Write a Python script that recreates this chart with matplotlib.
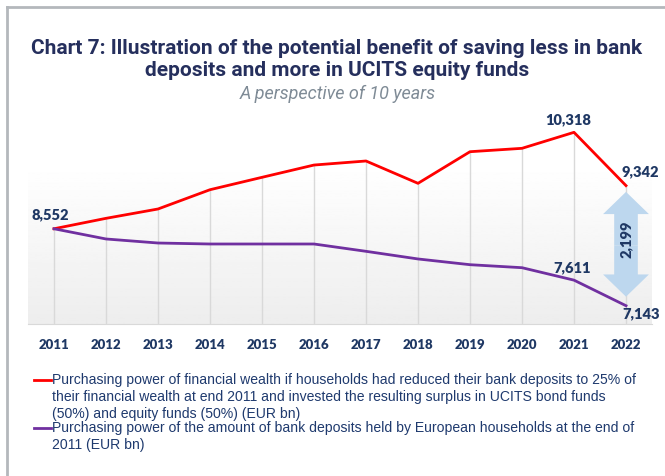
import numpy as np
import matplotlib
matplotlib.use("Agg")
import matplotlib.pyplot as plt
from matplotlib.lines import Line2D

# ------------------------------------------------------------
#  data (EUR bn)
# ------------------------------------------------------------
years = list(range(2011, 2023))
funds_mix = [8552, 8743, 8914, 9267, 9494, 9719, 9793, 9384, 9963, 10025, 10318, 9342]
deposits = [8552, 8365, 8291, 8273, 8273, 8273, 8139, 7999, 7894, 7839, 7611, 7143]

labelled = {"funds": [2011, 2021, 2022], "deposits": [2021, 2022]}

title = "Chart 7: Illustration of the potential benefit of saving less in bank\ndeposits and more in UCITS equity funds"
subtitle = "A perspective of 10 years"
legend_labels = [
    "Purchasing power of financial wealth if households had reduced their bank deposits to 25% of\n"
    "their financial wealth at end 2011 and invested the resulting surplus in UCITS bond funds\n"
    "(50%) and equity funds (50%) (EUR bn)",
    "Purchasing power of the amount of bank deposits held by European households at the end of\n"
    "2011 (EUR bn)",
]

NAVY = "#1f3864"
RED = "#ff0000"
PURPLE = "#7030a0"
W, H = 665, 477


def fx(px):
    return px / W


def fy(py):
    return 1 - py / H


fig = plt.figure(figsize=(6.65, 4.77), dpi=100)

# outer frame (top + left border)
fig.add_artist(Line2D([fx(7), 1], [fy(8), fy(8)], color="#b4b8bc", lw=2))
fig.add_artist(Line2D([fx(7), fx(7)], [fy(8), 0], color="#b4b8bc", lw=2))

# titles
fig.text(fx(337), fy(59), title, ha="center", va="center", fontsize=15,
         fontweight="bold", family="Roboto", color="#252f5d", linespacing=1.2)
fig.text(fx(338), fy(94), subtitle, ha="center", va="center", fontsize=13,
         style="italic", family="Roboto", color="#7f8b96")

# ------------------------------------------------------------
#  plot area
# ------------------------------------------------------------
ax = fig.add_axes([fx(28), 1 - 325 / H, 624 / W, 205 / H])
ymin, ymax = 6808, 10562
ax.set_xlim(2010.5, 2022.5)
ax.set_ylim(ymin, ymax)
ax.patch.set_alpha(0)

grad = np.linspace(1.0, 0.93, 100).reshape(-1, 1)
ax.imshow(grad, extent=(2010.5, 2022.5, ymin, 9740), aspect="auto",
          cmap="gray", vmin=0, vmax=1, zorder=0, origin="upper")

ax.vlines(years, ymin, funds_mix, color="#d9d9d9", lw=1, zorder=1)
ax.plot(years, funds_mix, color=RED, lw=2, zorder=3, clip_on=False)
ax.plot(years, deposits, color=PURPLE, lw=2, zorder=3, clip_on=False)

for s in ["top", "left", "right"]:
    ax.spines[s].set_visible(False)
ax.spines["bottom"].set_color("#d9d9d9")
ax.set_yticks([])
ax.set_xticks(years)
ax.set_xticklabels([str(y) for y in years], fontsize=9.5, fontweight="heavy",
                   family="Lato", color=NAVY)
ax.tick_params(axis="x", length=0, pad=10)

lab_kw = dict(fontsize=10.5, fontweight="heavy", family="Lato", color=NAVY,
              textcoords="offset points", ha="center", va="center")
offs = {("funds", 2011): (-3, 11), ("funds", 2021): (-4, 10),
        ("funds", 2022): (10, 11), ("deposits", 2021): (-1, 10),
        ("deposits", 2022): (11, -5)}
for key, series in (("funds", funds_mix), ("deposits", deposits)):
    for yr in labelled[key]:
        v = series[years.index(yr)]
        ax.annotate(f"{v:,}", (yr, v), xytext=offs[(key, yr)], zorder=5, **lab_kw)

# double arrow showing the gap in 2022
gap = funds_mix[-1] - deposits[-1]
mid = (funds_mix[-1] + deposits[-1]) / 2
style = "simple,head_length=1.6,head_width=3.3,tail_width=1.7"
ax.annotate("", xy=(2022, funds_mix[-1]), xytext=(2022, mid),
            arrowprops=dict(arrowstyle=style, color="#bdd7ee", lw=0,
                            shrinkA=0, shrinkB=4.5), zorder=2)
ax.annotate("", xy=(2022, deposits[-1]), xytext=(2022, mid),
            arrowprops=dict(arrowstyle=style, color="#bdd7ee", lw=0,
                            shrinkA=0, shrinkB=6.5), zorder=2)
ax.annotate(f"{gap:,}", (2022, mid), xytext=(0, 5), textcoords="offset points",
            rotation=90, ha="center", va="center", fontsize=10.5,
            fontweight="heavy", family="Lato", color=NAVY, zorder=4)

# ------------------------------------------------------------
#  legend (wrapped labels, drawn by hand)
# ------------------------------------------------------------
for lab, col, row1 in zip(legend_labels, [RED, PURPLE], [381, 429]):
    fig.add_artist(Line2D([fx(34), fx(51)], [fy(row1), fy(row1)], color=col, lw=2))
    fig.text(fx(52), fy(row1 - 8), lab, ha="left", va="top", fontsize=10.1,
             family="Liberation Sans", color="#1f3a6e", linespacing=1.27)

fig.savefig("out.png", dpi=100)
